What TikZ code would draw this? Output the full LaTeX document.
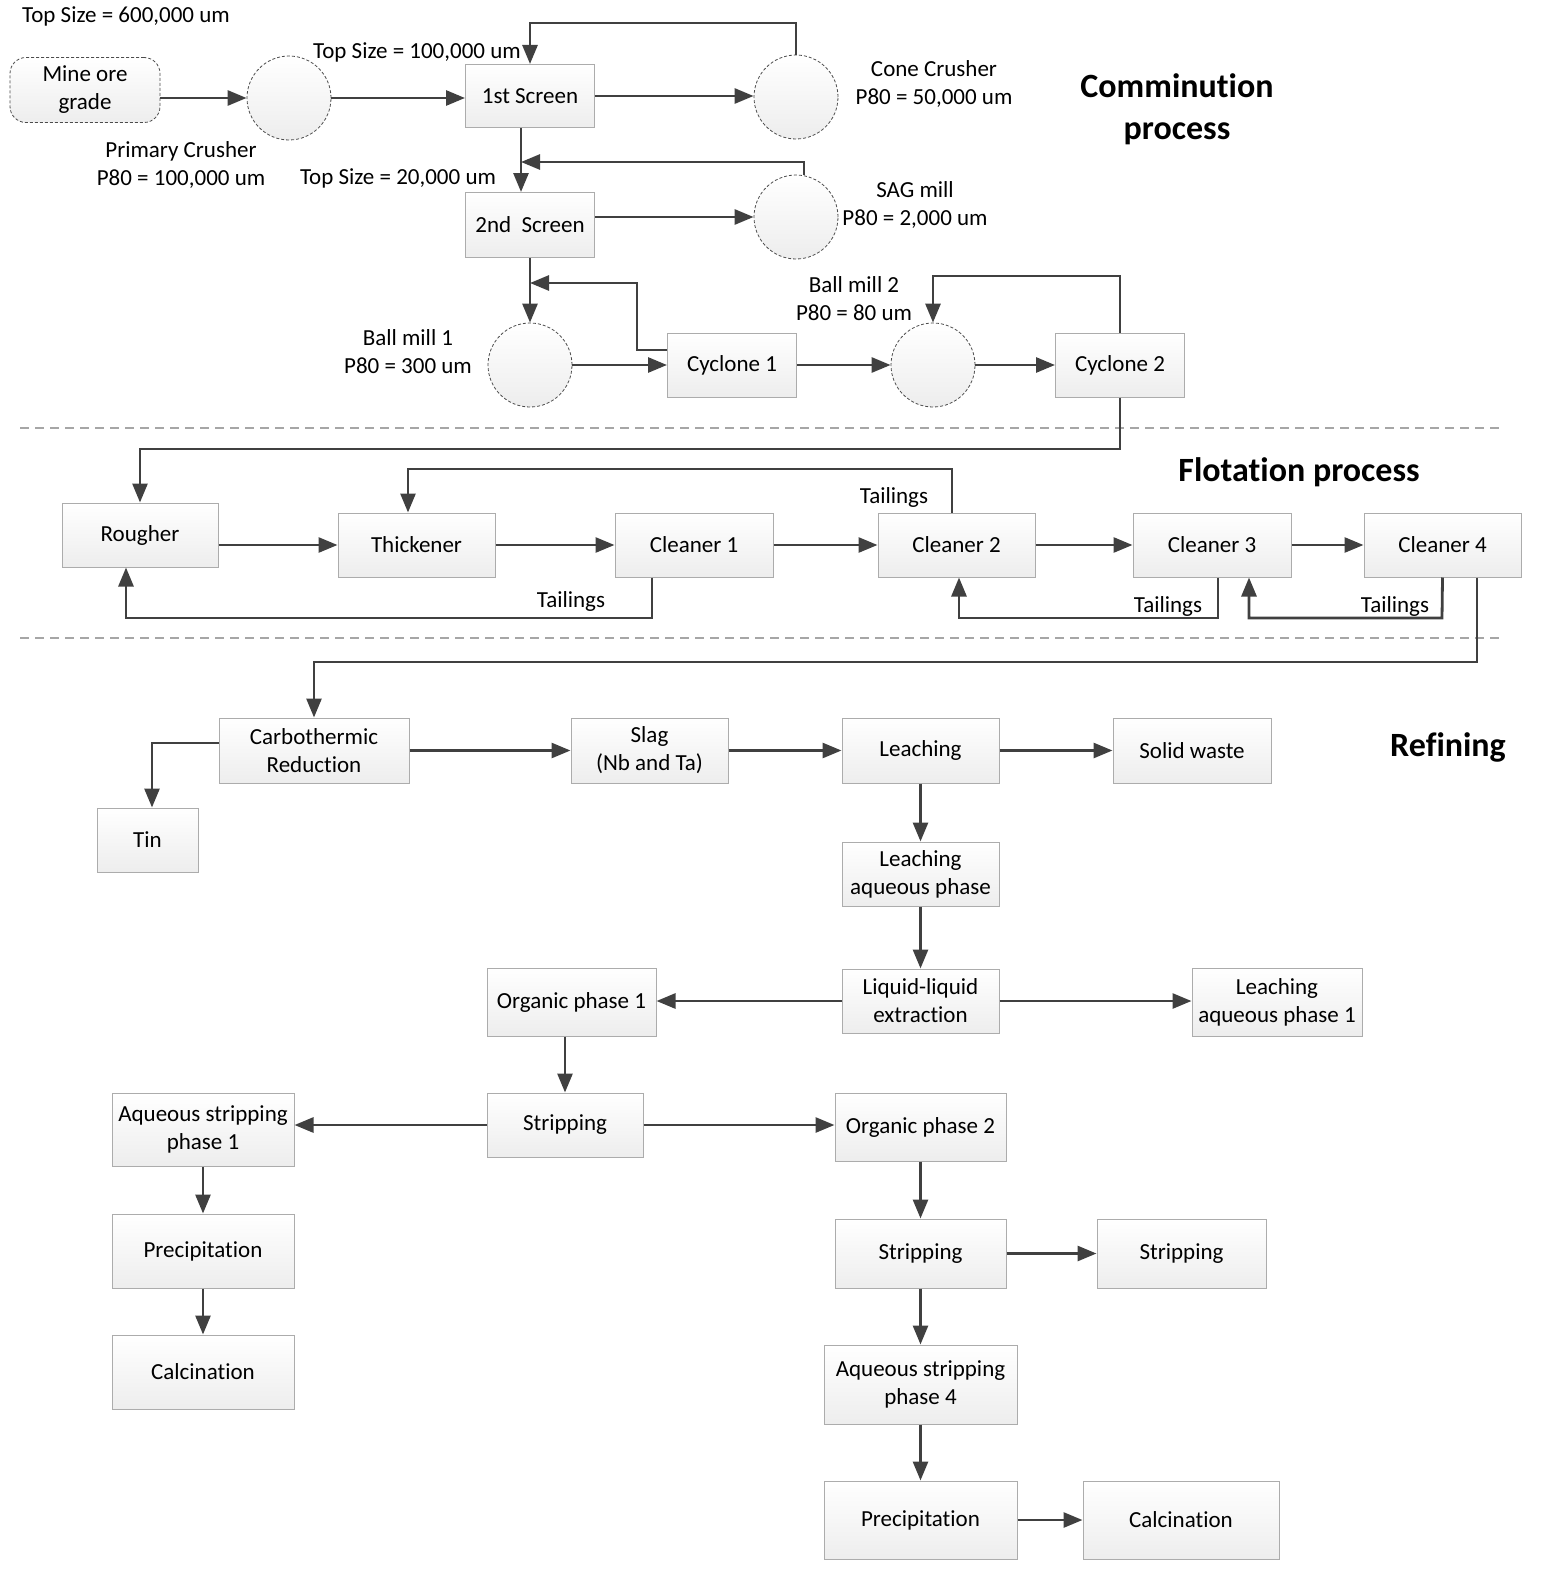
\documentclass[tikz,border=0pt]{standalone}
\usepackage{fontspec}
\setmainfont[Ligatures=NoCommon, RawFeature={-liga;-clig;-dlig;-calt}]{Carlito}
\usetikzlibrary{arrows.meta,shadings}
\begin{document}
\begin{tikzpicture}[x=1pt,y=-1pt,
  every node/.style={font=\fontsize{23}{28}\selectfont, inner sep=0pt, align=center},
  box/.style={draw=gray!65, line width=1pt, top color=white, bottom color=gray!14, shading angle=0},
  mill/.style={circle, draw=gray!60!black, line width=0.8pt, dash pattern=on 3pt off 2pt, top color=white, bottom color=gray!14, minimum size=84pt},
  arr/.style={draw=black!75, line width=2.8pt, -{Triangle[length=19pt,width=15pt]}},
  sep/.style={draw=gray!70, line width=1.2pt, dash pattern=on 9pt off 6pt},
  title/.style={font=\bfseries\fontsize{34}{42}\selectfont},
  lbl/.style={}
]
\useasboundingbox (0,0) rectangle (1553,1592);

% ---------------- Comminution ----------------
\node[lbl, anchor=west] (ts600) at (22,16) {Top Size = 600,000 um};
\node[box, rounded corners=16pt, draw=gray!60!black, line width=0.8pt, dash pattern=on 3pt off 2pt, minimum width=150pt, minimum height=65pt] (mine) at (85,90) {Mine ore\\grade};
\node[mill] (pc) at (289,98) {};
\node[lbl] (pclbl) at (181,165) {Primary Crusher\\P80 = 100,000 um};
\node[lbl] (ts100) at (417,52) {Top Size = 100,000 um};
\node[box, minimum width=129pt, minimum height=63pt] (s1) at (530,96) {1st Screen};
\node[mill] (cone) at (796,97) {};
\node[lbl] (conelbl) at (934,83.5) {Cone Crusher\\P80 = 50,000 um};
\node[title] (comm) at (1177,109) {Comminution\\process};
\node[lbl] (ts20) at (398,178) {Top Size = 20,000 um};
\node[box, minimum width=129pt, minimum height=65pt] (s2) at (530,225) {2nd\ \ Screen};
\node[mill] (sag) at (796,217) {};
\node[lbl] (saglbl) at (915,205) {SAG mill\\P80 = 2,000 um};
\node[mill] (bm1) at (530,365) {};
\node[lbl] (bm1lbl) at (408,351.5) {Ball mill 1\\P80 = 300 um};
\node[box, minimum width=129pt, minimum height=64pt] (cy1) at (732,365) {Cyclone 1};
\node[mill] (bm2) at (933,365) {};
\node[lbl] (bm2lbl) at (854,298.5) {Ball mill 2\\P80 = 80 um};
\node[box, minimum width=129pt, minimum height=64pt] (cy2) at (1120,365) {Cyclone 2};

\draw[arr] (mine.east |- pc.west) -- (pc.west);
\draw[arr] (pc.east) -- (pc.east -| s1.west);
\draw[arr] (s1.east) -- (s1.east -| cone.west);
\coordinate (c1) at (796,23);
\draw[arr] (cone.north) -- (c1) -| (s1.north);
\coordinate (s1sx) at ([xshift=-9pt]s1.south);
\draw[arr] (s1sx) -- ([xshift=-9pt]s2.north);
\coordinate (c2) at (804,162);
\draw[arr] ([xshift=8pt]sag.north) -- (c2) -- (c2 -| s1sx);
\draw[arr] (s2.east |- sag.west) -- (sag.west);
\draw[arr] (s2.south) -- (bm1.north);
\coordinate (c3) at (637,283);
\draw[arr] ([yshift=15pt]cy1.west) -| (c3) -- (c3 -| bm1.north);
\draw[arr] (bm1.east) -- (cy1.west);
\draw[arr] (cy1.east) -- (bm2.west);
\draw[arr] (bm2.east) -- (cy2.west);
\coordinate (c4) at (1120,276);
\draw[arr] (cy2.north) -- (c4) -| (bm2.north);

% separators
\coordinate (sepA1) at (20,428); \coordinate (sepA2) at (1503,428);
\coordinate (sepB1) at (20,638); \coordinate (sepB2) at (1503,638);
\draw[sep] (sepA1) -- (sepA2);
\draw[sep] (sepB1) -- (sepB2);

% ---------------- Flotation ----------------
\node[title] (flot) at (1299,472) {Flotation process};
\node[box, minimum width=156pt, minimum height=64pt] (rough) at (140,535) {Rougher};
\node[box, minimum width=157pt, minimum height=64pt] (thick) at (416.5,545) {Thickener};
\node[box, minimum width=158pt, minimum height=64pt] (cl1) at (694,545) {Cleaner 1};
\node[box, minimum width=157pt, minimum height=64pt] (cl2) at (956.5,545) {Cleaner 2};
\node[box, minimum width=158pt, minimum height=64pt] (cl3) at (1212,545) {Cleaner 3};
\node[box, minimum width=157pt, minimum height=64pt] (cl4) at (1442.5,545) {Cleaner 4};

\coordinate (c5) at (1120,449);
\draw[arr] (cy2.south) -- (c5) -| (rough.north);

\draw[arr] (rough.east |- thick.west) -- (thick.west);
\draw[arr] (thick.east) -- (cl1.west);
\draw[arr] (cl1.east) -- (cl2.west);
\draw[arr] (cl2.east) -- (cl3.west);
\draw[arr] (cl3.east) -- (cl4.west);

\coordinate (c6) at (952,469);
\draw[arr] ([xshift=-4.5pt]cl2.north) -- (c6) -| ([xshift=-8.5pt]thick.north);
\node[lbl] (tl1) at (894,497) {Tailings};

\coordinate (c7) at (652,618);
\draw[arr] ([xshift=-42pt]cl1.south) -- (c7) -| ([xshift=-14pt]rough.south);
\node[lbl] (tl2) at (571,601) {Tailings};

\coordinate (c8) at (1218,618);
\draw[arr] ([xshift=6pt]cl3.south) -- (c8) -| ([xshift=2.5pt]cl2.south);
\node[lbl] (tl3) at (1168,606) {Tailings};

\coordinate (c9) at (1442,618);
\draw[arr] (cl4.south) -- (c9) -| ([xshift=37pt]cl3.south);
\node[lbl] (tl4) at (1395,606) {Tailings};

% ---------------- Refining ----------------
\node[title] (refi) at (1448,747) {Refining};
\node[box, minimum width=190pt, minimum height=65pt] (carbo) at (314,750.5) {Carbothermic\\Reduction};
\node[box, minimum width=101pt, minimum height=64pt] (tin) at (147.5,840) {Tin};
\node[box, minimum width=157pt, minimum height=65pt] (slag) at (649.5,750.5) {Slag\\(Nb and Ta)};
\node[box, minimum width=157pt, minimum height=65pt] (leach) at (920.5,750.5) {Leaching};
\node[box, minimum width=158pt, minimum height=65pt] (solid) at (1192,750.5) {Solid waste};
\node[box, minimum width=157pt, minimum height=64pt] (lap) at (920.5,874) {Leaching\\aqueous phase};
\node[box, minimum width=157pt, minimum height=64pt] (lle) at (920.5,1001) {Liquid-liquid\\extraction};
\node[box, minimum width=169pt, minimum height=68pt] (op1) at (571.5,1002) {Organic phase 1};
\node[box, minimum width=170pt, minimum height=68pt] (lap1) at (1277,1002) {Leaching\\aqueous phase 1};
\node[box, minimum width=156pt, minimum height=64pt] (str1) at (565,1125) {Stripping};
\node[box, minimum width=182pt, minimum height=73pt] (asp1) at (203,1129.5) {Aqueous stripping\\phase 1};
\node[box, minimum width=171pt, minimum height=68pt] (op2) at (920.5,1127) {Organic phase 2};
\node[box, minimum width=182pt, minimum height=74pt] (prec1) at (203,1251) {Precipitation};
\node[box, minimum width=182pt, minimum height=74pt] (calc1) at (203,1372) {Calcination};
\node[box, minimum width=171pt, minimum height=69pt] (str2) at (920.5,1253.5) {Stripping};
\node[box, minimum width=169pt, minimum height=69pt] (str3) at (1181.5,1253.5) {Stripping};
\node[box, minimum width=193pt, minimum height=79pt] (asp4) at (920.5,1384.5) {Aqueous stripping\\phase 4};
\node[box, minimum width=193pt, minimum height=78pt] (prec2) at (920.5,1520) {Precipitation};
\node[box, minimum width=196pt, minimum height=78pt] (calc2) at (1181,1520) {Calcination};

\coordinate (c10) at (1477,662);
\draw[arr] ([xshift=34.5pt]cl4.south) -- (c10) -| (carbo.north);
\draw[arr] ([yshift=7.5pt]carbo.west) -| ([xshift=4.5pt]tin.north);
\draw[arr] (carbo.east) -- (slag.west);
\draw[arr] (slag.east) -- (leach.west);
\draw[arr] (leach.east) -- (solid.west);
\draw[arr] (leach.south) -- (lap.north);
\draw[arr] (lap.south) -- (lle.north);
\draw[arr] (lle.west) -- (lle.west -| op1.east);
\draw[arr] (lle.east) -- (lle.east -| lap1.west);
\draw[arr] (str1.north |- op1.south) -- (str1.north);
\draw[arr] (str1.west) -- (str1.west -| asp1.east);
\draw[arr] (str1.east) -- (str1.east -| op2.west);
\draw[arr] (asp1.south) -- (prec1.north);
\draw[arr] (prec1.south) -- (calc1.north);
\draw[arr] (op2.south) -- (str2.north);
\draw[arr] (str2.east) -- (str3.west);
\draw[arr] (str2.south) -- (asp4.north);
\draw[arr] (asp4.south) -- (prec2.north);
\draw[arr] (prec2.east) -- (calc2.west);
\end{tikzpicture}
\end{document}
